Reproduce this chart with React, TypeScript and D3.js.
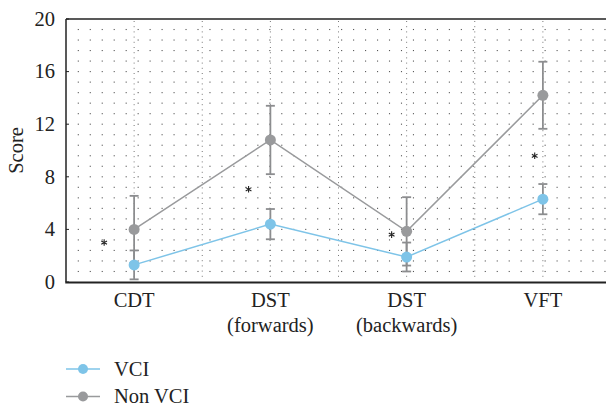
import React from "react";
import * as d3 from "d3";

const categories = ["CDT", "DST\n(forwards)", "DST\n(backwards)", "VFT"];
const vciMean = [1.3, 4.4, 1.9, 6.3];
const vciSd = [1.1, 1.15, 1.1, 1.15];
const nonMean = [4.0, 10.8, 3.85, 14.2];
const nonSd = [2.55, 2.6, 2.6, 2.55];
const sigValue = [3.0, 7.05, 3.6, 9.6];
const sigShift = [-0.22, -0.16, -0.11, -0.06];
const yTicks = [0, 4, 8, 12, 16, 20];
const seriesNames = ["VCI", "Non VCI"];

const W = 606, H = 407;
const left = 66, top = 19, bottom = 282, right = 611;
const BLUE = "#7ec4e8";
const GRAY = "#999a9c";
const ERR = "#8c8d8f";
const FONT = "'Liberation Serif', 'Times New Roman', Times, serif";
const FS = 20.5;

export default function App() {
  const x = d3.scalePoint<string>().domain(categories).range([left, right]).padding(0.5);
  const step = x.step();
  const y = d3.scaleLinear().domain([0, 20]).range([bottom, top]);

  const line = d3.line<number>().x((_, i) => x(categories[i])!).y((d) => y(d));

  const rows = d3.range(0.8, 20, 0.8);
  const cols = d3.range(78.3, W, 11.97);
  const vlines: number[] = [];
  categories.forEach((c) => {
    vlines.push(x(c)!);
    vlines.push(x(c)! + step / 2);
  });

  const series = [
    { mean: vciMean, sd: vciSd, color: BLUE },
    { mean: nonMean, sd: nonSd, color: GRAY },
  ];

  const ast = d3.symbol(d3.symbolAsterisk, 30)()!;

  return (
    <svg width={W} height={H} style={{ position: "absolute", left: 0, top: 0 }}>
      <rect width={W} height={H} fill="#fff" />
      {vlines.filter((v) => v > left + 2 && v < W).map((v, i) => (
        <line key={"v" + i} x1={v} x2={v} y1={top + 2} y2={bottom - 2} stroke="#777" strokeWidth={1} strokeDasharray="1 4.2" />
      ))}
      {rows.map((r, i) =>
        cols.map((c, j) => (
          <rect key={`d${i}-${j}`} x={c - 0.55} y={y(r) - 0.55} width={1.1} height={1.1} fill="#555" />
        ))
      )}
      <line x1={left} x2={W} y1={top} y2={top} stroke="#222" strokeWidth={1.5} />
      <line x1={left} x2={left} y1={top} y2={bottom} stroke="#222" strokeWidth={1.5} />
      <line x1={left - 0.75} x2={W} y1={bottom + 0.5} y2={bottom + 0.5} stroke="#222" strokeWidth={2} />
      {yTicks.map((t) => (
        <g key={"t" + t}>
          <line x1={left} x2={left + 3} y1={y(t)} y2={y(t)} stroke="#222" strokeWidth={1} />
          <text x={55} y={y(t) + 6.8} textAnchor="end" fontFamily={FONT} fontSize={FS} fill="#222">
            {t}
          </text>
        </g>
      ))}
      <text transform={`translate(23,${(top + bottom) / 2}) rotate(-90)`} textAnchor="middle" fontFamily={FONT} fontSize={FS} fill="#222">
        Score
      </text>
      {categories.map((c) => (
        <text key={c} x={x(c)} y={307} textAnchor="middle" fontFamily={FONT} fontSize={FS} fill="#222">
          {c.split("\n").map((s, k) => (
            <tspan key={k} x={x(c)} dy={k === 0 ? 0 : 25}>
              {s}
            </tspan>
          ))}
        </text>
      ))}
      {series.map((s, i) => (
        <path key={"l" + i} d={line(s.mean)!} fill="none" stroke={s.color} strokeWidth={1.5} />
      ))}
      {series.map((s, i) =>
        s.mean.map((m, k) => {
          const cx = x(categories[k])!;
          const y1 = y(m + s.sd[k]);
          const y2 = y(m - s.sd[k]);
          return (
            <g key={`e${i}-${k}`} stroke={ERR} strokeWidth={1.8}>
              <line x1={cx} x2={cx} y1={y1} y2={y2} />
              <line x1={cx - 4.5} x2={cx + 4.5} y1={y1} y2={y1} />
              <line x1={cx - 4.5} x2={cx + 4.5} y1={y2} y2={y2} />
            </g>
          );
        })
      )}
      {series.map((s, i) =>
        s.mean.map((m, k) => (
          <circle key={`p${i}-${k}`} cx={x(categories[k])} cy={y(m)} r={5.5} fill={s.color} />
        ))
      )}
      {sigValue.map((v, k) => (
        <path key={"a" + k} d={ast} transform={`translate(${x(categories[k])! + sigShift[k] * step},${y(v)})`} fill="none" stroke="#222" strokeWidth={1.1} />
      ))}
      {seriesNames.map((n, i) => {
        const ly = 369 + i * 27.5;
        return (
          <g key={n}>
            <line x1={66} x2={100} y1={ly} y2={ly} stroke={series[i].color} strokeWidth={1.5} />
            <circle cx={83} cy={ly} r={5} fill={series[i].color} />
            <text x={114} y={ly + 6.8} fontFamily={FONT} fontSize={FS} fill="#222">
              {n}
            </text>
          </g>
        );
      })}
    </svg>
  );
}
